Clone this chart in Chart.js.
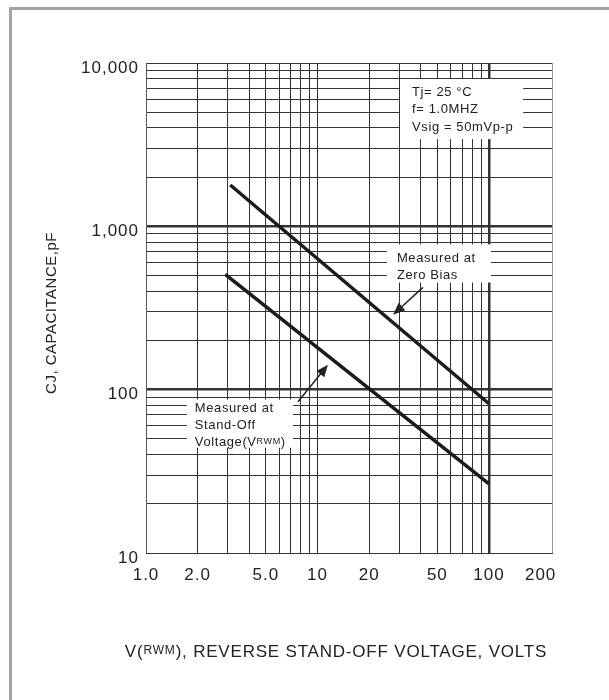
<!DOCTYPE html>
<html>
<head>
<meta charset="utf-8">
<script src="https://cdn.jsdelivr.net/npm/chart.js@4/dist/chart.umd.min.js"></script>
<style>
  body { margin: 0; background: #fff; }
  #wrap { position: relative; width: 609px; height: 700px; }
  #frame { position: absolute; left: 9px; top: 7px; right: 0; bottom: 0;
           border-left: 3px solid #a3a3a3; border-top: 3px solid #a3a3a3; pointer-events: none; }
  canvas { position: absolute; left: 0; top: 0; }
</style>
</head>
<body>
<div id="wrap">
  <canvas id="myChart" width="609" height="700"></canvas>
  <div id="frame"></div>
</div>
<script>
// Data
var zeroBiasVolts = [3.1, 100];
var zeroBiasPF = [1790, 82];
var standOffVolts = [2.9, 100];
var standOffPF = [508, 26.5];

// axis labels
var xLabelValues = [1, 2, 5, 10, 20, 50, 100, 200];
var xLabelText = ["1.0", "2.0", "5.0", "10", "20", "50", "100", "200"];
var yLabelValues = [10, 100, 1000, 10000];
var yLabelText = ["10", "100", "1,000", "10,000"];

var xMin = 1, xMax = 233;
var yMin = 10, yMax = 10000;

var FONT = "'Liberation Sans', Arial, sans-serif";
var INK = "#222";

// 1..9 x 10^k grid values between lo and hi
function logGrid(lo, hi) {
  var out = [];
  for (var d = lo; d < hi; d *= 10) {
    for (var m = 1; m < 10; m++) out.push(m * d);
  }
  out.push(hi);
  return out;
}

function toPoints(xs, ys) {
  return xs.map(function (x, i) { return { x: x, y: ys[i] }; });
}

// annotation boxes, corners in data units
var notes = [
  { x1: 30.3, y1: 7980, x2: 158, y2: 3420, padL: 12, t0: 13, lineH: 17.5,
    lines: [["Tj= 25 °C"], ["f= 1.0MHZ"], ["Vsig = 50mVp-p"]] },
  { x1: 25.4, y1: 776, x2: 102.7, y2: 453, padL: 10, t0: 14, lineH: 17,
    lines: [["Measured at"], ["Zero Bias"]] },
  { x1: 1.73, y1: 86.9, x2: 7.2, y2: 44.1, padL: 8, t0: 9, lineH: 17,
    lines: [["Measured at"], ["Stand-Off"], ["Voltage(V", "RWM", ")"]] }
];
var arrows = [
  { fx: 41.2, fy: 423, tx: 27.6, ty: 288 },
  { fx: 7.7, fy: 84.4, tx: 11.5, ty: 142 }
];

// draws text pieces, odd pieces are small (subscript style)
function drawPieces(ctx, pieces, x, y, size, align) {
  var big = size + "px " + FONT, small = Math.round(size * 0.72) + "px " + FONT;
  var total = 0;
  pieces.forEach(function (p, i) { ctx.font = i % 2 ? small : big; total += ctx.measureText(p).width; });
  var cx = align === "center" ? x - total / 2 : x;
  ctx.textAlign = "left";
  pieces.forEach(function (p, i) {
    ctx.font = i % 2 ? small : big;
    ctx.fillText(p, cx, i % 2 ? y - 1 : y);
    cx += ctx.measureText(p).width;
  });
}

var annotate = {
  id: "annotate",
  beforeDraw: function (chart) {
    chart.ctx.letterSpacing = "1px";
  },
  afterDraw: function (chart) {
    var ctx = chart.ctx, xs = chart.scales.x, ys = chart.scales.y;
    ctx.save();
    ctx.fillStyle = INK;
    ctx.textBaseline = "middle";
    ctx.letterSpacing = "0.6px";

    notes.forEach(function (n) {
      var l = xs.getPixelForValue(n.x1), r = xs.getPixelForValue(n.x2);
      var t = ys.getPixelForValue(n.y1), b = ys.getPixelForValue(n.y2);
      ctx.fillStyle = "#fff";
      ctx.fillRect(l, t, r - l, b - t);
      ctx.fillStyle = INK;
      n.lines.forEach(function (pieces, i) {
        drawPieces(ctx, pieces, l + n.padL, t + n.t0 + i * n.lineH, 13, "left");
      });
    });

    arrows.forEach(function (a) {
      var x0 = xs.getPixelForValue(a.fx), y0 = ys.getPixelForValue(a.fy);
      var x1 = xs.getPixelForValue(a.tx), y1 = ys.getPixelForValue(a.ty);
      var ang = Math.atan2(y1 - y0, x1 - x0);
      ctx.strokeStyle = INK;
      ctx.lineWidth = 1.5;
      ctx.beginPath();
      ctx.moveTo(x0, y0);
      ctx.lineTo(x1 - 8 * Math.cos(ang), y1 - 8 * Math.sin(ang));
      ctx.stroke();
      ctx.beginPath();
      ctx.moveTo(x1, y1);
      ctx.lineTo(x1 - 12 * Math.cos(ang) + 5 * Math.sin(ang), y1 - 12 * Math.sin(ang) - 5 * Math.cos(ang));
      ctx.lineTo(x1 - 12 * Math.cos(ang) - 5 * Math.sin(ang), y1 - 12 * Math.sin(ang) + 5 * Math.cos(ang));
      ctx.closePath();
      ctx.fill();
    });

    // axis titles
    ctx.letterSpacing = "0.8px";
    drawPieces(ctx, ["V(", "RWM", "), REVERSE STAND-OFF VOLTAGE, VOLTS"], 336, 652, 17, "center");
    ctx.translate(52, 313);
    ctx.rotate(-Math.PI / 2);
    ctx.letterSpacing = "0.5px";
    drawPieces(ctx, ["CJ, CAPACITANCE,pF"], 0, 0, 15, "center");
    ctx.restore();
  }
};

(function () {
  buildChart();
})();

function buildChart() {
  var ctx = document.getElementById("myChart").getContext("2d");
  var xGrid = logGrid(1, 100);
  var yGrid = logGrid(10, 10000);

  new Chart(ctx, {
    type: "scatter",
    data: {
      datasets: [
        {
          label: "Measured at Zero Bias",
          data: toPoints(zeroBiasVolts, zeroBiasPF),
          showLine: true,
          borderColor: "#1b1b1b",
          borderWidth: 3.5,
          pointRadius: 0,
        },
        {
          label: "Measured at Stand-Off Voltage",
          data: toPoints(standOffVolts, standOffPF),
          showLine: true,
          borderColor: "#1b1b1b",
          borderWidth: 3.5,
          pointRadius: 0,
        },
      ],
    },
    options: {
      responsive: false,
      animation: false,
      layout: { padding: { left: 0, top: 63, right: 57, bottom: 0 } },
      plugins: { legend: { display: false }, tooltip: { enabled: false } },
      scales: {
        x: {
          type: "logarithmic",
          min: xMin,
          max: xMax,
          afterFit: function (s) { s.height = 147; },
          afterBuildTicks: function (s) {
            s.ticks = xGrid.concat([200, xMax]).map(function (v) { return { value: v }; });
          },
          ticks: {
            autoSkip: false,
            maxRotation: 0,
            padding: 12,
            color: INK,
            font: { family: FONT, size: 17 },
            callback: function (v) {
              var i = xLabelValues.indexOf(v);
              return i < 0 ? "" : xLabelText[i];
            },
          },
          grid: {
            drawTicks: false,
            color: function (c) {
              if (!c.tick) return "#333";
              if (c.tick.value === 200) return "rgba(0,0,0,0)";
              if (c.tick.value === xMax) return "#999";
              return "#333";
            },
            lineWidth: function (c) {
              return c.tick && c.tick.value === 100 ? 2.5 : 1;
            },
          },
          border: { color: "#333", width: 1 },
        },
        y: {
          type: "logarithmic",
          min: yMin,
          max: yMax,
          afterFit: function (s) { s.width = 146; },
          afterBuildTicks: function (s) {
            s.ticks = yGrid.map(function (v) { return { value: v }; });
          },
          ticks: {
            autoSkip: false,
            padding: 7,
            labelOffset: 5,
            color: INK,
            font: { family: FONT, size: 17 },
            callback: function (v) {
              var i = yLabelValues.indexOf(v);
              return i < 0 ? "" : yLabelText[i];
            },
          },
          grid: {
            drawTicks: false,
            color: "#333",
            lineWidth: function (c) {
              return c.tick && (c.tick.value === 100 || c.tick.value === 1000) ? 2.5 : 1;
            },
          },
          border: { color: "#555", width: 1 },
        },
      },
    },
    plugins: [annotate],
  });
}
</script>
</body>
</html>
